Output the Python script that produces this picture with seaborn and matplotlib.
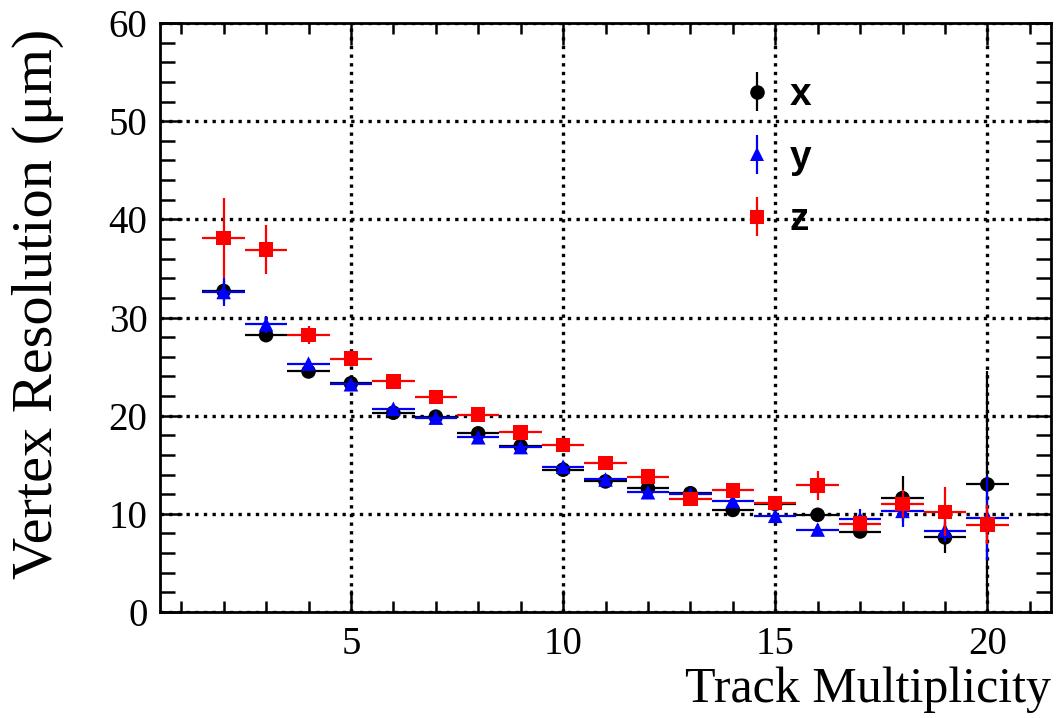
import numpy as np
import pandas as pd
import matplotlib
matplotlib.use("Agg")
import matplotlib.pyplot as plt
import seaborn as sns
from matplotlib.ticker import MultipleLocator

# ---------------- data ----------------
multiplicity = [2, 3, 4, 5, 6, 7, 8, 9, 10, 11, 12, 13, 14, 15, 16, 17, 18, 19, 20]
res_x = [32.7, 28.2, 24.5, 23.3, 20.3, 19.9, 18.2, 16.9, 14.5, 13.3, 12.6, 12.1, 10.4, 11.0, 9.9, 8.2, 11.6, 7.6, 13.0]
res_y = [32.6, 29.3, 25.3, 23.2, 20.7, 19.8, 17.8, 16.8, 14.8, 13.5, 12.2, 12.0, 11.3, 9.8, 8.4, 9.5, 10.3, 8.3, 9.6]
res_z = [38.1, 36.9, 28.2, 25.8, 23.5, 21.9, 20.1, 18.3, 17.0, 15.2, 13.8, 11.5, 12.4, 11.1, 12.9, 9.0, 11.0, 10.2, 8.9]
err_x = [1.0, 0.5, 0.4, 0.4, 0.4, 0.4, 0.4, 0.3, 0.4, 0.4, 0.4, 0.4, 0.5, 0.5, 0.6, 0.6, 2.3, 1.6, 11.5]
err_y = [1.4, 0.9, 0.5, 0.4, 0.4, 0.4, 0.4, 0.3, 0.4, 0.4, 0.4, 0.4, 0.5, 0.5, 0.6, 1.0, 1.6, 1.2, 4.3]
err_z = [4.1, 2.5, 0.9, 0.6, 0.5, 0.5, 0.5, 0.5, 0.5, 0.5, 0.5, 0.5, 0.6, 0.6, 1.5, 0.7, 1.4, 2.5, 2.0]
bin_halfwidth = 0.5
series_names = ["x", "y", "z"]

# ---------------- style ----------------
sns.set_theme(style="ticks")
plt.rcParams["font.family"] = ["Liberation Serif", "DejaVu Serif"]
plt.rcParams["text.color"] = "black"
plt.rcParams["axes.labelcolor"] = "black"
plt.rcParams["xtick.color"] = "black"
plt.rcParams["ytick.color"] = "black"

colors = {"x": "black", "y": "#0000ff", "z": "#ff0000"}
markers = {"x": "o", "y": "^", "z": "s"}

frames = []
for name, vals, errs in zip(series_names, [res_x, res_y, res_z], [err_x, err_y, err_z]):
    frames.append(pd.DataFrame({"mult": multiplicity, "res": vals, "err": errs, "axis": name}))
df = pd.concat(frames, ignore_index=True)

fig = plt.figure(figsize=(10.59, 7.18), dpi=100)
ax = fig.add_axes([160 / 1059, 1 - 612 / 718, (1051 - 160) / 1059, (612 - 23) / 718])

ax.set_xlim(0.5, 21.5)
ax.set_ylim(0, 60)

# dotted grid on major ticks
ax.grid(True, which="major", color="black", linestyle=(0, (1, 1.6)), linewidth=2.4, zorder=0)

for i, name in enumerate(series_names):
    sub = df[df["axis"] == name]
    ax.errorbar(sub["mult"], sub["res"], yerr=sub["err"], xerr=bin_halfwidth,
                fmt="none", ecolor=colors[name], elinewidth=1.6, capsize=0, zorder=2 + 2 * i)
    sns.scatterplot(data=sub, x="mult", y="res", ax=ax, marker=markers[name],
                    color=colors[name], s=110, edgecolor="none", linewidth=0,
                    zorder=3 + 2 * i, legend=False)

# legend proxies (vertical error only)
handles = []
for name in series_names:
    h = ax.errorbar([np.nan], [np.nan], yerr=[1.0], fmt=markers[name], color=colors[name],
                    ecolor=colors[name], elinewidth=1.6, markersize=10.5, capsize=0,
                    markeredgewidth=0)
    handles.append(h)
leg = ax.legend(handles, series_names, loc="upper left", frameon=False,
                bbox_to_anchor=(718 / 1059, 1 - 58 / 718), bbox_transform=fig.transFigure,
                borderpad=0, handlelength=1.0, handletextpad=0.35, labelspacing=0.68,
                prop={"family": "Liberation Sans", "weight": "bold", "size": 28})
for t in leg.get_texts():
    t.set_color("black")

# axes styling
ax.xaxis.set_major_locator(MultipleLocator(5))
ax.xaxis.set_minor_locator(MultipleLocator(1))
ax.yaxis.set_major_locator(MultipleLocator(10))
ax.yaxis.set_minor_locator(MultipleLocator(2))
ax.tick_params(which="both", direction="in", top=True, right=True, width=1.8, colors="black")
ax.tick_params(axis="x", which="major", length=16, labelsize=28, pad=10)
ax.tick_params(axis="x", which="minor", length=8)
ax.tick_params(axis="y", which="major", length=16, labelsize=28, pad=9)
ax.tick_params(axis="y", which="minor", length=11)
for sp in ax.spines.values():
    sp.set_visible(True)
    sp.set_linewidth(2.0)
    sp.set_color("black")

ax.set_xlabel("Track Multiplicity", fontsize=36, loc="right", color="black")
ax.xaxis.set_label_coords(1.0, -0.093)
ax.set_ylabel("Vertex Resolution (\u03bcm)", fontsize=42, loc="top", color="black")
ax.yaxis.set_label_coords(-0.108, 0.99)

fig.savefig("out.png", dpi=100, facecolor="white")
